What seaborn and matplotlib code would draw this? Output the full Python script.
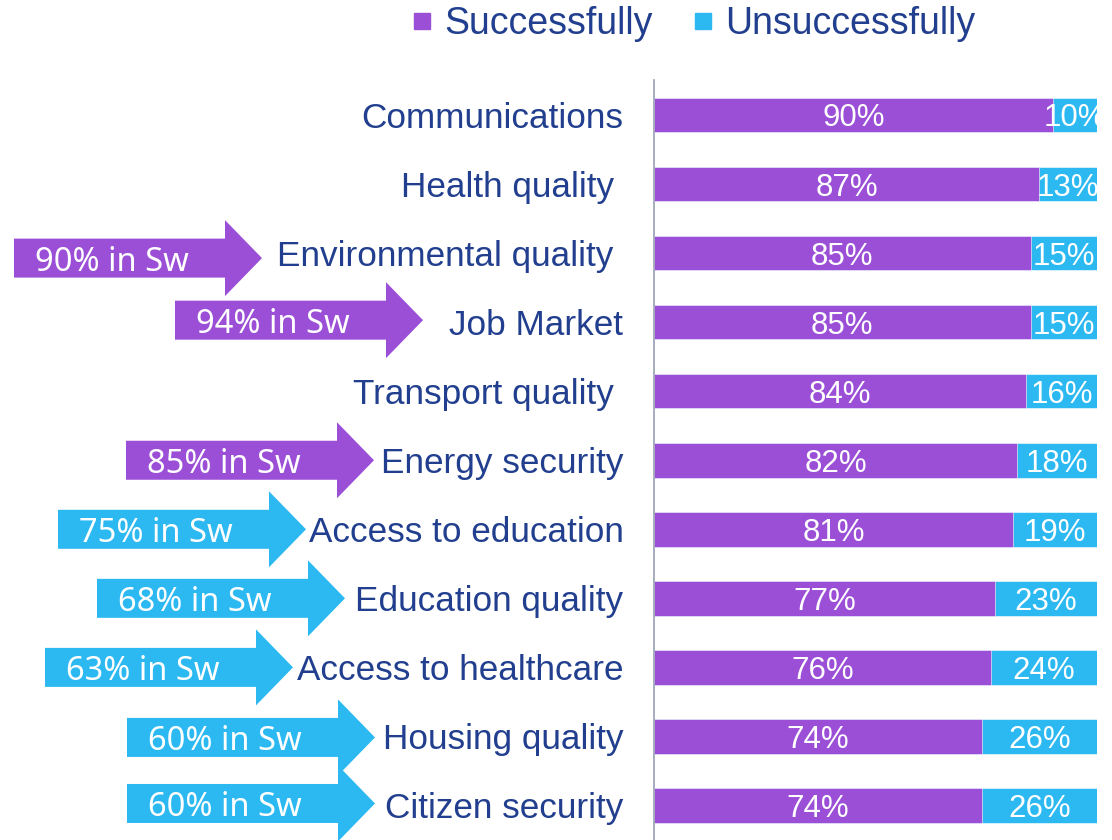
import matplotlib
matplotlib.use('Agg')
import matplotlib.pyplot as plt
import seaborn as sns
from matplotlib.patches import Polygon
from matplotlib.lines import Line2D

categories = ['Communications', 'Health quality ', 'Environmental quality ', 'Job Market',
              'Transport quality ', 'Energy security', 'Access to education', 'Education quality',
              'Access to healthcare', 'Housing quality', 'Citizen security']
successfully = [90, 87, 85, 85, 84, 82, 81, 77, 76, 74, 74]
unsuccessfully = [10, 13, 15, 15, 16, 18, 19, 23, 24, 26, 26]

# Sweden comparison arrows
sw_categories = ['Environmental quality ', 'Job Market', 'Energy security', 'Access to education',
                 'Education quality', 'Access to healthcare', 'Housing quality', 'Citizen security']
sw_values = [90, 94, 85, 75, 68, 63, 60, 60]
sw_better = [True, True, True, False, False, False, False, False]
arrow_tail_px = [14, 175, 126, 58, 97, 45, 127, 127]
arrow_dy_px = [-5, 2, 0, 0, 0, 0, -1, 2]

purple = '#9B4FD6'
blue = '#2CB9F2'
navy = '#213F8E'

sns.set_theme(style='white')
plt.rcParams['font.family'] = ['Liberation Sans', 'DejaVu Sans']

W, H = 1112, 840
fig = plt.figure(figsize=(W / 100, H / 100), dpi=100)
ax = fig.add_axes([654 / W, 0.0, (1097 - 654) / W, 1 - 80.5 / H])

totals = [s + u for s, u in zip(successfully, unsuccessfully)]
sns.barplot(x=totals, y=categories, color=blue, width=0.5, saturation=1, ax=ax,
            orient='h', edgecolor='white', linewidth=0.4)
sns.barplot(x=successfully, y=categories, color=purple, width=0.5, saturation=1, ax=ax,
            orient='h', edgecolor='white', linewidth=0.4)

for i, (s, u) in enumerate(zip(successfully, unsuccessfully)):
    ax.text(s / 2, i + 0.05, f'{s}%', ha='center', va='center', color='white', fontsize=22.5)
    ax.text(s + u / 2, i + 0.05, f'{u}%', ha='center', va='center', color='white',
            fontsize=22.5, clip_on=False)

ax.set_xlim(0, 100)
ax.set_ylim(10.5, -0.5)
ax.set_xticks([])
ax.set_xlabel('')
ax.set_ylabel('')
ax.tick_params(axis='y', length=0, pad=22, labelsize=25.3, labelcolor=navy)
for side in ['top', 'right', 'bottom']:
    ax.spines[side].set_visible(False)
ax.spines['left'].set_color('#9A9EB5')
ax.spines['left'].set_linewidth(1.2)

# arrows with Swedish comparison
fig.canvas.draw()
body_h, head_h, head_len, total_len = 39, 76, 37, 248
for cat, val, better, tail, dy in zip(sw_categories, sw_values, sw_better, arrow_tail_px,
                                      arrow_dy_px):
    idx = categories.index(cat)
    yc = ax.transData.transform((0, idx))[1] + dy
    tip = tail + total_len
    neck = tip - head_len
    pts = [(tail, yc - body_h / 2), (neck, yc - body_h / 2), (neck, yc - head_h / 2),
           (tip, yc), (neck, yc + head_h / 2), (neck, yc + body_h / 2), (tail, yc + body_h / 2)]
    pts = [(x / W, y / H) for x, y in pts]
    fig.add_artist(Polygon(pts, closed=True, transform=fig.transFigure,
                           facecolor=purple if better else blue, edgecolor='none'))
    fig.text((tail + 21) / W, (yc - 4) / H, f'{val}% in Sw', ha='left', va='center',
             color='white', fontsize=23.5, family=['Noto Sans', 'DejaVu Sans'])

handles = [Line2D([], [], marker='s', linestyle='', markersize=11, color=purple),
           Line2D([], [], marker='s', linestyle='', markersize=11, color=blue)]
fig.legend(handles, ['Successfully', 'Unsuccessfully'], loc='center',
           bbox_to_anchor=(694 / W, 1 - 24 / H), ncol=2, frameon=False, fontsize=27,
           labelcolor=navy, handlelength=0.5, handletextpad=0.35, columnspacing=1.1)

fig.savefig('out.png', dpi=100)
